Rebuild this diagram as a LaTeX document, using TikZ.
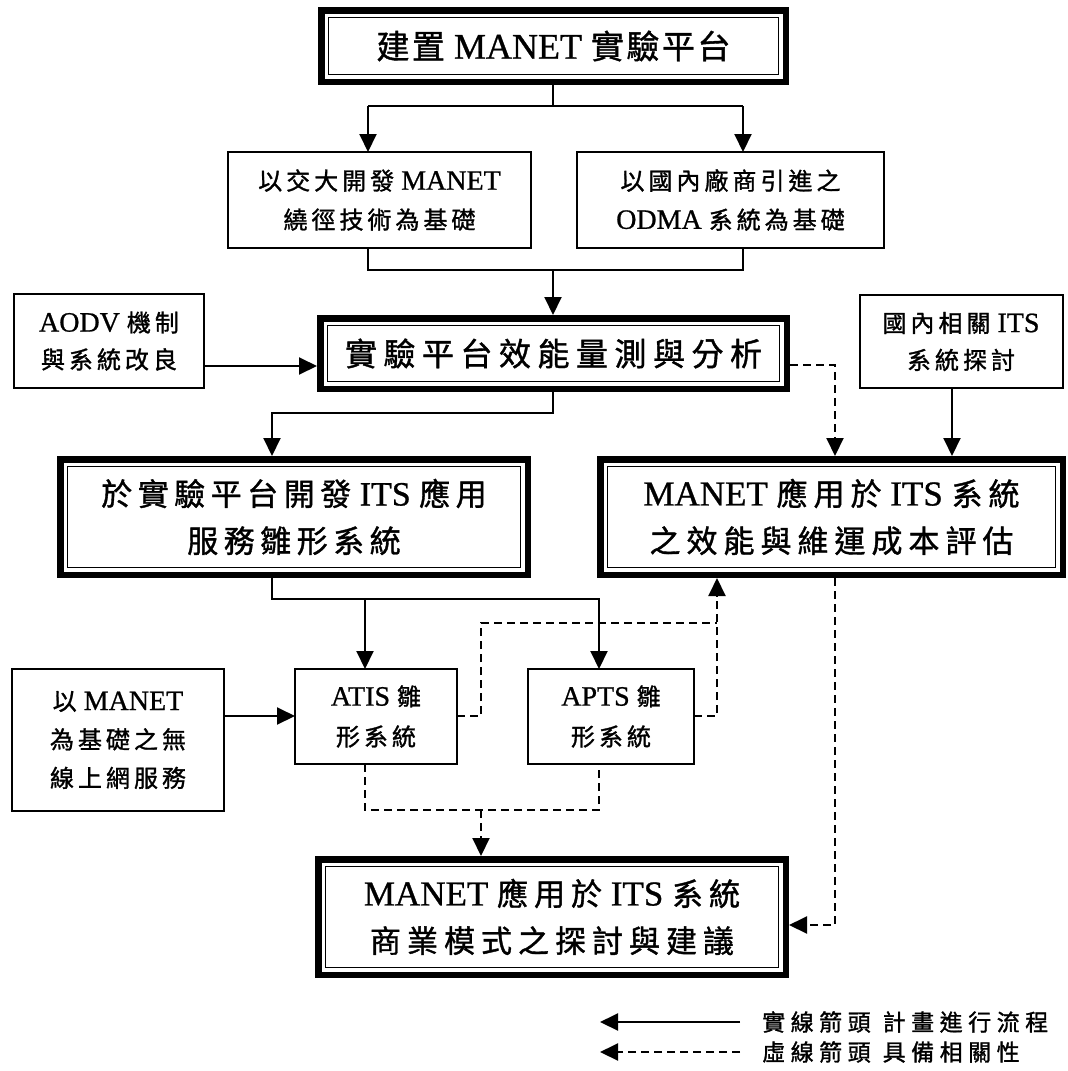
\documentclass[tikz,border=0pt]{standalone}
\usepackage{fontspec}
\setmainfont{Liberation Serif}[FakeBold=0.8]
\newfontfamily\cjkf{Noto Sans CJK TC}[FakeBold=1.2]
\usetikzlibrary{arrows.meta}
\newlength\cjkgap
\newcommand\cjksize{24}
\newcommand\FS[4]{\fontsize{#1}{#4}\selectfont\def\cjksize{#2}\setlength\cjkgap{#3pt}}
\makeatletter
\newcommand\C[1]{{\cjkf\fontsize{\cjksize}{\cjksize}\selectfont\C@loop#1\relax}}
\def\C@loop#1{\ifx#1\relax\else#1\expandafter\C@next\fi}
\def\C@next#1{\ifx#1\relax\else\hskip\cjkgap#1\expandafter\C@next\fi}
\makeatother
\newcommand\dbox[1]{%
  \draw[line width=6.5pt] ([xshift=3.25pt,yshift=-3.25pt]#1.north west) rectangle ([xshift=-3.25pt,yshift=3.25pt]#1.south east);
  \draw[line width=1.6pt] ([xshift=10.5pt,yshift=-10.5pt]#1.north west) rectangle ([xshift=-10.5pt,yshift=10.5pt]#1.south east);}
\begin{document}
\begin{tikzpicture}[x=1pt,y=-1pt,
  box/.style={draw, line width=2pt, inner sep=0pt, outer sep=0pt, align=center},
  dbx/.style={inner sep=0pt, outer sep=0pt, align=center},
  ln/.style={line width=2pt},
  arr/.style={line width=2pt, -{Triangle[length=18pt,width=17pt]}},
  dln/.style={line width=2pt, dash pattern=on 8pt off 5pt},
  darr/.style={dln, -{Triangle[length=18pt,width=17pt]}}]
\fill[white] (0,0) rectangle (1068,1071);
\useasboundingbox (0,0) rectangle (1068,1071);

% nodes
\node[dbx, minimum width=471pt, minimum height=78pt, font=\FS{36}{33}{2.5}{40}] (b1) at (553.5,46) {\C{建置} MANET \C{實驗平台}};
\dbox{b1}
\node[box, minimum width=303pt, minimum height=96pt, font=\FS{28}{24}{4}{39}] (b2) at (379.5,200) {\C{以交大開發} MANET\\\C{繞徑技術為基礎}};
\node[box, minimum width=307pt, minimum height=96pt, font=\FS{28}{24}{4}{39}] (b3) at (730.5,200) {\C{以國內廠商引進之}\\ODMA \C{系統為基礎}};
\node[box, minimum width=190pt, minimum height=94pt, font=\FS{28}{24}{4}{37}] (aodv) at (109,341) {AODV \C{機制}\\\C{與系統改良}};
\node[dbx, minimum width=473pt, minimum height=77pt, font=\FS{34}{32}{6.5}{40}] (b4) at (553.5,353.5) {\C{實驗平台效能量測與分析}};
\dbox{b4}
\node[box, minimum width=203pt, minimum height=93pt, font=\FS{28}{24}{4}{37}] (gn) at (961,341.5) {\C{國內相關} ITS\\\C{系統探討}};
\node[dbx, minimum width=474pt, minimum height=122pt, font=\FS{34}{31}{5.5}{47}] (b5) at (294,517) {\C{於實驗平台開發} ITS \C{應用}\\\C{服務雛形系統}};
\dbox{b5}
\node[dbx, minimum width=469pt, minimum height=122pt, font=\FS{35}{31}{6}{47}] (b6) at (831.5,517) {MANET \C{應用於} ITS \C{系統}\\\C{之效能與維運成本評估}};
\dbox{b6}
\node[box, minimum width=212pt, minimum height=142pt, font=\FS{28}{24}{4}{38.5}] (wl) at (118,740) {\C{以} MANET\\\C{為基礎之無}\\\C{線上網服務}};
\node[box, minimum width=162pt, minimum height=95pt, font=\FS{28}{24}{4}{40}] (atis) at (376,716.5) {ATIS \C{雛}\\\C{形系統}};
\node[box, minimum width=166pt, minimum height=95pt, font=\FS{28}{24}{4}{40}] (apts) at (611,716.5) {APTS \C{雛}\\\C{形系統}};
\node[dbx, minimum width=474pt, minimum height=122pt, font=\FS{35}{31}{6}{47}] (b7) at (552,917) {MANET \C{應用於} ITS \C{系統}\\\C{商業模式之探討與建議}};
\dbox{b7}

% junction coordinates
\coordinate (j1) at (553,106);
\coordinate (j1L) at (368,106);
\coordinate (j1R) at (743,106);
\coordinate (j2L) at (368,270);
\coordinate (j2R) at (743,270);
\coordinate (j2) at (553,270);
\coordinate (y366) at (250,366);
\coordinate (j4) at (553,413);
\coordinate (j4L) at (272,413);
\coordinate (j5) at (835,365);
\coordinate (x952) at (952,0);
\coordinate (j6) at (272,599);
\coordinate (j6M) at (365,599);
\coordinate (j6R) at (599,599);
\coordinate (y716) at (0,716);
\coordinate (j7) at (481,716);
\coordinate (j7u) at (481,623);
\coordinate (j7R) at (717,623);
\coordinate (j7b) at (717,716);
\coordinate (j8L) at (365,810);
\coordinate (j8R) at (599,810);
\coordinate (j8) at (481,810);
\coordinate (j9) at (835,925);

% solid connectors
\draw[ln] (j1 |- b1.south) -- (j1);
\draw[ln] (j1L) -- (j1R);
\draw[arr] (j1L) -- (j1L |- b2.north);
\draw[arr] (j1R) -- (j1R |- b3.north);
\draw[ln] (j2L |- b2.south) -- (j2L) -- (j2R) -- (j2R |- b3.south);
\draw[arr] (j2) -- (j2 |- b4.north);
\draw[arr] (aodv.east |- y366) -- (b4.west |- y366);
\draw[arr] (j4 |- b4.south) -- (j4) -- (j4L) -- (j4L |- b5.north);
\draw[arr] (gn.south -| x952) -- (x952 |- b6.north);
\draw[arr] (j6 |- b5.south) -- (j6) -- (j6R) -- (j6R |- apts.north);
\draw[arr] (j6M) -- (j6M |- atis.north);
\draw[arr] (wl.east |- y716) -- (atis.west |- y716);

% dashed connectors
\draw[darr] (b4.east |- j5) -- (j5) -- (j5 |- b6.north);
\draw[dln] (atis.east |- y716) -- (j7) -- (j7u) -- (j7R);
\draw[darr] (apts.east |- y716) -- (j7b) -- (j7b |- b6.south);
\draw[dln] (j8L |- atis.south) -- (j8L) -- (j8R) -- (j8R |- apts.south);
\draw[darr] (j8) -- (j8 |- b7.north);
\draw[darr] (j9 |- b6.south) -- (j9) -- (b7.east |- j9);

% legend
\coordinate (l1) at (740,1022);
\coordinate (l1e) at (600,1022);
\coordinate (l2) at (740,1052);
\coordinate (l2e) at (600,1052);
\draw[arr] (l1) -- (l1e);
\draw[darr] (l2) -- (l2e);
\node[anchor=west, inner sep=0pt, font=\FS{23}{23}{5.5}{26}] (t1) at (762,1022) {\C{實線箭頭}\hspace{12pt}\C{計畫進行流程}};
\node[anchor=west, inner sep=0pt, font=\FS{23}{23}{5.5}{26}] (t2) at (762,1052) {\C{虛線箭頭}\hspace{12pt}\C{具備相關性}};
\end{tikzpicture}
\end{document}
